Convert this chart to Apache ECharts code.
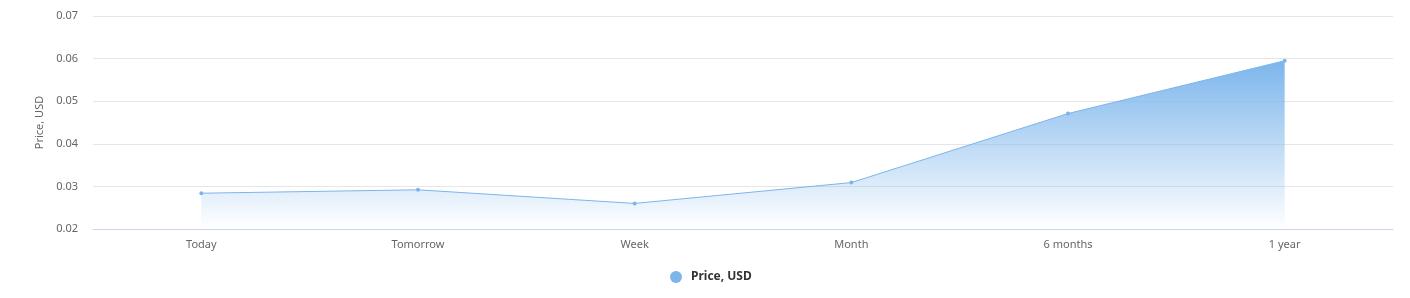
<!DOCTYPE html>
<html>
<head>
<meta charset="utf-8">
<script src="https://cdn.jsdelivr.net/npm/echarts@6/dist/echarts.min.js"></script>
<style>
  html, body { margin: 0; padding: 0; background: #fff; }
  #chart_price { width: 1410px; height: 298px; }
</style>
</head>
<body>
<div id="chart_price"></div>
<script>
  // 数据
  var periods = ['Today', 'Tomorrow', 'Week', 'Month', '6 months', '1 year']
  var prices = [0.0284, 0.0292, 0.0260, 0.0309, 0.0471, 0.0595]
  var seriesName = 'Price, USD'

  var myChartPrice = echarts.init(document.getElementById('chart_price'))
  var option = {
    animation: false,
    textStyle: { fontFamily: 'Noto Sans' },
    grid: {
      left: 93,
      right: 17,
      top: 16,
      bottom: 69
    },
    legend: {
      bottom: 10,
      left: 665,
      icon: 'circle',
      itemWidth: 12,
      itemHeight: 12,
      textStyle: { color: '#333', fontWeight: 'bold', fontSize: 12, padding: [0, 0, 0, 4] },
      data: [seriesName]
    },
    xAxis: {
      type: 'category',
      data: periods,
      axisTick: { show: false },
      axisLine: { lineStyle: { color: '#ccd6eb' } },
      axisLabel: { color: '#666', fontSize: 11, margin: 10 }
    },
    yAxis: {
      type: 'value',
      min: 0.02,
      max: 0.07,
      interval: 0.01,
      name: seriesName,
      nameLocation: 'middle',
      nameGap: 48,
      nameTextStyle: { color: '#666', fontSize: 11 },
      axisLine: { show: false },
      axisTick: { show: false },
      axisLabel: {
        color: '#666',
        fontSize: 11,
        margin: 15,
        formatter: function (v) { return v.toFixed(2) }
      },
      splitLine: { lineStyle: { color: '#e6e6e6' } }
    },
    series: [
      {
        name: seriesName,
        type: 'line',
        data: prices,
        symbol: 'circle',
        symbolSize: 4,
        itemStyle: { color: '#7cb5ec' },
        lineStyle: { color: '#7cb5ec', width: 1 },
        areaStyle: {
          origin: 'start',
          opacity: 1,
          color: new echarts.graphic.LinearGradient(0, 0, 0, 1, [
            { offset: 0, color: 'rgba(124,181,236,1)' },
            { offset: 1, color: 'rgba(124,181,236,0)' }
          ])
        }
      }
    ]
  }
  myChartPrice.setOption(option)
</script>
</body>
</html>
